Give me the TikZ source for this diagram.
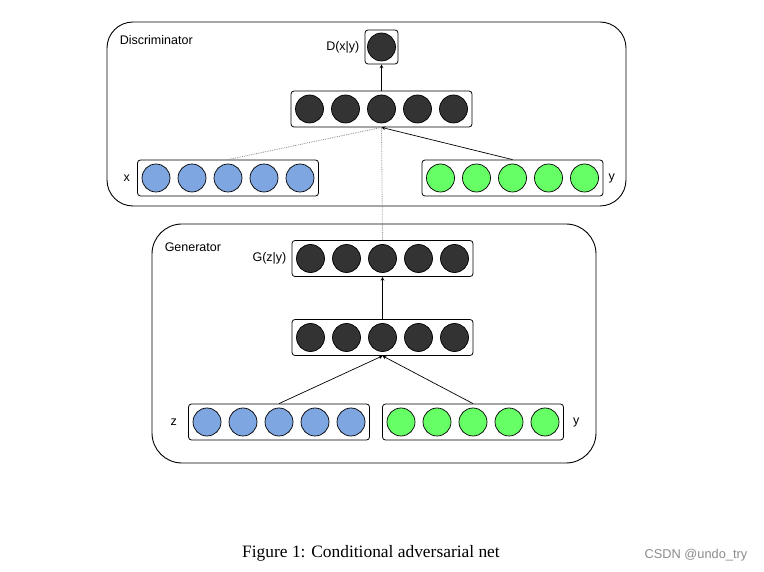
\documentclass[tikz,border=0pt]{standalone}
\usepackage{fontspec}
\setmainfont{Liberation Serif}
\setsansfont{Liberation Sans}
\usepackage{xcolor}
\usetikzlibrary{positioning}
\definecolor{unitblue}{RGB}{126,166,224}
\definecolor{unitgreen}{RGB}{102,255,102}
\definecolor{unitdark}{RGB}{51,51,51}

\begin{document}
\begin{tikzpicture}[x=1pt, y=-1pt, font=\sffamily\fontsize{12.5}{15}\selectfont,
    panel/.style={draw, rounded corners=26pt, line width=0.9pt, inner sep=0pt},
    layer/.style={draw, rounded corners=3pt, minimum width=181pt, minimum height=36pt, inner sep=0pt, line width=0.8pt},
    unit/.style={draw, circle, minimum size=28pt, inner sep=0pt, line width=0.7pt},
    tag/.style={inner sep=0pt},
    link/.style={-stealth, line width=0.7pt},
    faint/.style={densely dotted, black!45, line width=0.8pt}]
  \useasboundingbox[fill=white] (0,0) rectangle (764,572);

  % panels
  \node (disc) [panel, minimum width=519pt, minimum height=184pt] at (366.5,114) {};
  \node (gen) [panel, minimum width=444pt, minimum height=239pt, rounded corners=30pt] at (374,343.5) {};
  \node (disclabel) [tag, below right=14pt and 13pt of disc.north west] {Discriminator};
  \node (genlabel) [tag, below right=19pt and 13pt of gen.north west] {Generator};

  % layers
  \node (dout) [layer, minimum width=33pt, minimum height=34pt] at (381.5,47) {};
  \node (dhid) [layer] at (381.5,109) {};
  \node (dx) [layer] at (228,178) {};
  \node (dy) [layer] at (512.5,178) {};
  \node (gout) [layer] at (382.5,258.5) {};
  \node (ghid) [layer] at (382.5,337.5) {};
  \node (gz) [layer] at (279,422) {};
  \node (gy) [layer] at (473,422) {};

  % units
  \node (dout1) [unit, fill=unitdark] at (dout) {};
  \foreach \l/\c in {dhid/unitdark, dx/unitblue, dy/unitgreen, gout/unitdark, ghid/unitdark, gz/unitblue, gy/unitgreen}
    \foreach \i in {1,...,5}
      \node (\l\i) [unit, fill=\c] at ([xshift=(\i-3)*36pt]\l.center) {};

  % labels
  \node (doutlabel) [tag, left=5pt of dout] {D(x|y)};
  \node (dxlabel) [tag, left=7pt of dx] {x};
  \node (dylabel) [tag, right=5pt of dy] {y};
  \node (goutlabel) [tag, left=5pt of gout] {G(z|y)};
  \node (gzlabel) [tag, left=11pt of gz] {z};
  \node (gylabel) [tag, right=9pt of gy] {y};

  % connections
  \draw[link] (dhid) -- (dout);
  \draw[link] (dy.north) -- (dhid.south);
  \draw[faint] (dx.north) -- (dhid.south);
  \draw[faint] (gout.north) -- (dhid.south);
  \draw[link] (ghid) -- (gout);
  \draw[link] (gz.north) -- (ghid.south);
  \draw[link] (gy.north) -- (ghid.south);

  % caption
  \node (caption) at (371,553) {\rmfamily\fontsize{17.4}{20}\selectfont Figure 1: Conditional adversarial net};
  \node (mark) [text=black!45, font=\sffamily\fontsize{12.8}{15}\selectfont] at (696,555) {CSDN @undo\_try};
\end{tikzpicture}
\end{document}
